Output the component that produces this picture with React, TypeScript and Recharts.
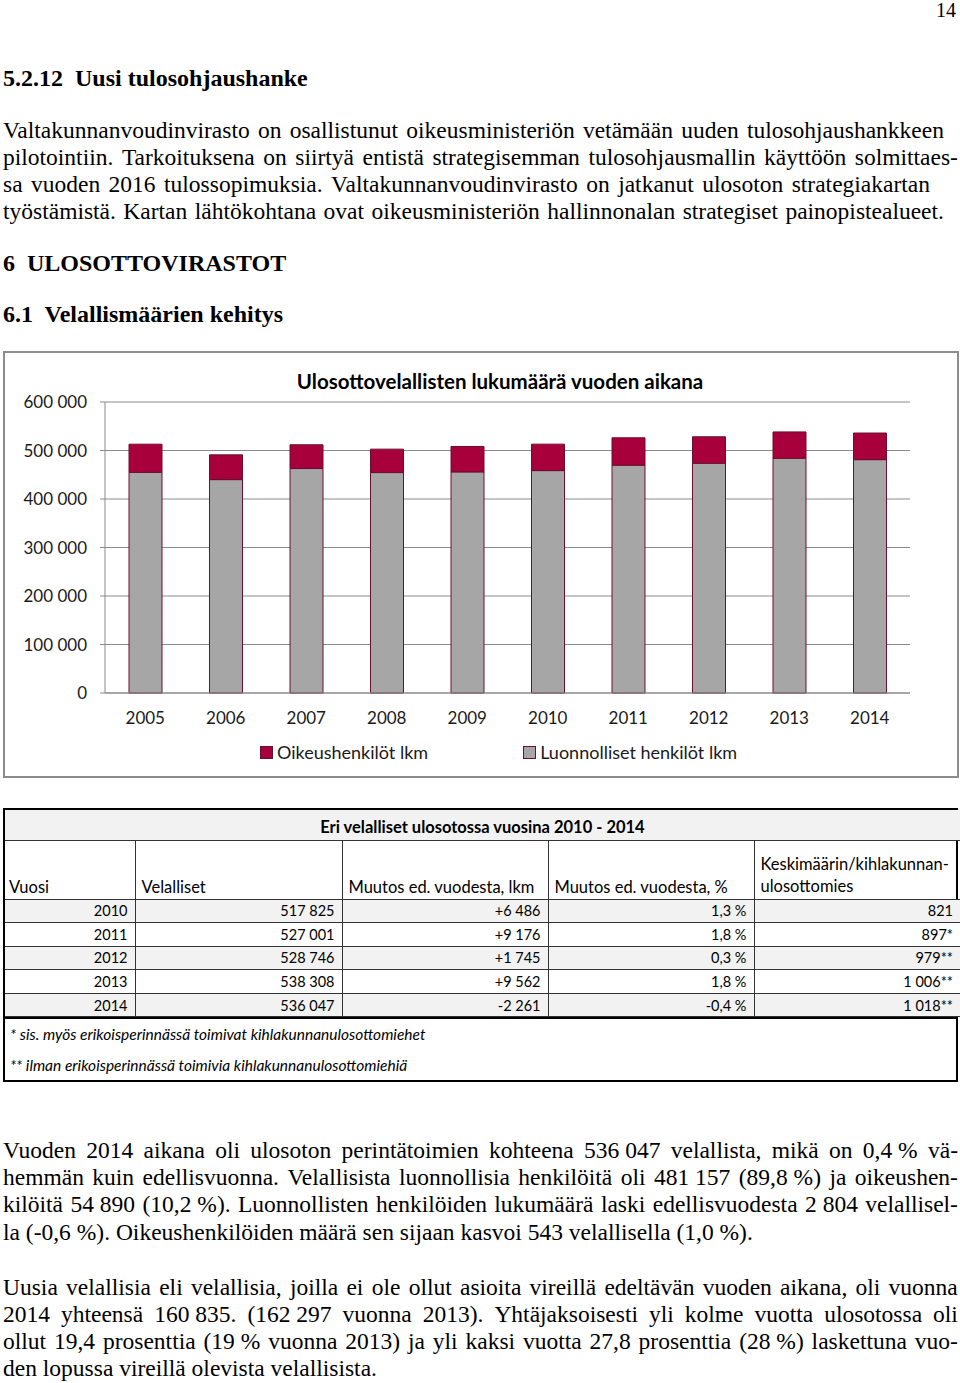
import React from 'react';
import { BarChart, Bar, XAxis, YAxis, CartesianGrid, Legend } from 'recharts';

// chart values (2013–2014 from the text)
const years = ['2005', '2006', '2007', '2008', '2009', '2010', '2011', '2012', '2013', '2014'];
const luonnolliset = [455000, 440000, 462800, 454500, 455900, 458600, 469700, 473800, 483961, 481157];
const oikeushenkilot = [58000, 51000, 49000, 48300, 52400, 54500, 56500, 54500, 54347, 54890];
const yTicks = [0, 100000, 200000, 300000, 400000, 500000, 600000];
const boundaryTicks = [0, 1, 2, 3, 4, 5, 6, 7, 8, 9, 10];

// table values
const tableYears = ['2010', '2011', '2012', '2013', '2014'];
const velalliset = ['517 825', '527 001', '528 746', '538 308', '536 047'];
const muutosLkm = ['+6 486', '+9 176', '+1 745', '+9 562', '-2 261'];
const muutosPct = ['1,3 %', '1,8 %', '0,3 %', '1,8 %', '-0,4 %'];
const keskimaarin = ['821', '897*', '979**', '1 006**', '1 018**'];

const RED = '#A8003B';
const GRAY = '#A6A6A6';
const EDGE = '#6B0F2E';
const serif = '"Liberation Serif", "Times New Roman", serif';
const sans = 'Lato, "Open Sans", sans-serif';

const chartData = years.map((y, i) => ({
  year: y,
  luonnolliset: luonnolliset[i],
  oikeus: oikeushenkilot[i],
}));

const fmt = (v: number) => String(v).replace(/\B(?=(\d{3})+(?!\d))/g, ' ');

type LineProps = { text: string; y: number; width?: number; bold?: boolean; size?: number };

// justified line: words spread over a fixed width
function TextLine({ text, y, width, bold, size = 23.5 }: LineProps) {
  const common: React.CSSProperties = {
    position: 'absolute',
    left: 3,
    top: y - 14,
    height: 28,
    lineHeight: '28px',
    fontFamily: serif,
    fontSize: size,
    fontWeight: bold ? 700 : 400,
    color: '#000',
    whiteSpace: 'pre',
  };
  if (!width) return <div style={common}>{text}</div>;
  return (
    <div style={{ ...common, width, display: 'flex', justifyContent: 'space-between' }}>
      {text.split(' ').map((w, i) => (
        <span key={i}>{w}</span>
      ))}
    </div>
  );
}

const topLines: LineProps[] = [
  { text: 'Valtakunnanvoudinvirasto on osallistunut oikeusministeriön vetämään uuden tulosohjaushankkeen', y: 130, width: 941 },
  { text: 'pilotointiin. Tarkoituksena on siirtyä entistä strategisemman tulosohjausmallin käyttöön solmittaes-', y: 157, width: 955 },
  { text: 'sa vuoden 2016 tulossopimuksia. Valtakunnanvoudinvirasto on jatkanut ulosoton strategiakartan', y: 184, width: 927 },
  { text: 'työstämistä. Kartan lähtökohtana ovat oikeusministeriön hallinnonalan strategiset painopistealueet.', y: 211, width: 941 },
];

const bottomLines: LineProps[] = [
  { text: 'Vuoden 2014 aikana oli ulosoton perintätoimien kohteena 536\u00a0047 velallista, mikä on 0,4\u00a0% vä-', y: 1150, width: 955 },
  { text: 'hemmän kuin edellisvuonna. Velallisista luonnollisia henkilöitä oli 481\u00a0157 (89,8\u00a0%) ja oikeushen-', y: 1177, width: 955 },
  { text: 'kilöitä 54\u00a0890 (10,2\u00a0%). Luonnollisten henkilöiden lukumäärä laski edellisvuodesta 2\u00a0804 velallisel-', y: 1204, width: 955 },
  { text: 'la (-0,6 %). Oikeushenkilöiden määrä sen sijaan kasvoi 543 velallisella (1,0 %).', y: 1232 },
  { text: 'Uusia velallisia eli velallisia, joilla ei ole ollut asioita vireillä edeltävän vuoden aikana, oli vuonna', y: 1287, width: 955 },
  { text: '2014 yhteensä 160\u00a0835. (162\u00a0297 vuonna 2013). Yhtäjaksoisesti yli kolme vuotta ulosotossa oli', y: 1314, width: 955 },
  { text: 'ollut 19,4 prosenttia (19\u00a0% vuonna 2013) ja yli kaksi vuotta 27,8 prosenttia (28\u00a0%) laskettuna vuo-', y: 1341, width: 955 },
  { text: 'den lopussa vireillä olevista velallisista.', y: 1368 },
];

function LegendContent() {
  const items = [
    { label: 'Oikeushenkilöt lkm', color: RED },
    { label: 'Luonnolliset henkilöt lkm', color: GRAY },
  ];
  return (
    <div style={{ display: 'flex', paddingLeft: 255, paddingTop: 18, gap: 95, fontFamily: sans, fontSize: 18, color: '#1a1a1a', height: 22, alignItems: 'flex-start' }}>
      {items.map((it) => (
        <div key={it.label} style={{ display: 'flex', alignItems: 'center', lineHeight: '22px' }}>
          <span style={{ width: 11, height: 11, background: it.color, border: `1px solid ${EDGE}`, marginRight: 4 }} />
          {it.label}
        </div>
      ))}
    </div>
  );
}

function Chart() {
  return (
    <div style={{ position: 'absolute', left: 3, top: 351, width: 952, height: 423, border: '2px solid #8C8C8C', background: '#fff' }}>
      <div style={{ position: 'absolute', left: 0, width: 990, top: 16, textAlign: 'center', fontFamily: sans, fontWeight: 700, fontSize: 20.5, color: '#000' }}>
        Ulosottovelallisten lukumäärä vuoden aikana
      </div>
      <BarChart width={952} height={423} data={chartData} margin={{ top: 49, right: 47, left: 0, bottom: 13 }} barSize={33}>
        <CartesianGrid vertical={false} stroke="#8A8A8A" strokeWidth={1} />
        <XAxis
          xAxisId="bounds"
          type="number"
          domain={[0, 10]}
          ticks={boundaryTicks}
          tick={false}
          height={0}
          axisLine={false}
          tickLine={{ stroke: '#8A8A8A' }}
          tickSize={8}
        />
        <XAxis
          dataKey="year"
          height={30}
          axisLine={{ stroke: '#8A8A8A' }}
          tickLine={false}
          tickMargin={13}
          tick={{ fontFamily: sans, fontSize: 17, fill: '#1a1a1a' }}
        />
        <YAxis
          width={100}
          domain={[0, 600000]}
          ticks={yTicks}
          tickFormatter={fmt}
          axisLine={{ stroke: '#8A8A8A' }}
          tickLine={{ stroke: '#8A8A8A' }}
          tickSize={5}
          tickMargin={13}
          tick={{ fontFamily: sans, fontSize: 17, fill: '#1a1a1a' }}
        />
        <Legend verticalAlign="bottom" height={40} content={<LegendContent />} />
        <Bar dataKey="luonnolliset" name="Luonnolliset henkilöt lkm" stackId="a" fill={GRAY} stroke={EDGE} strokeWidth={1} isAnimationActive={false} />
        <Bar dataKey="oikeus" name="Oikeushenkilöt lkm" stackId="a" fill={RED} stroke={EDGE} strokeWidth={1} isAnimationActive={false} />
      </BarChart>
    </div>
  );
}

const cell: React.CSSProperties = {
  border: '1px solid #333',
  padding: '0 7px',
  fontFamily: sans,
  fontSize: 14.5,
  color: '#000',
};

const head: React.CSSProperties = { ...cell, fontSize: 16.5, verticalAlign: 'bottom', paddingBottom: 2, paddingLeft: 6 };

function Table() {
  const colW = [130, 207, 206, 206, 206];
  return (
    <div style={{ position: 'absolute', left: 3, top: 808, width: 951, height: 270, border: '2px solid #000', background: '#fff' }}>
      <table style={{ borderCollapse: 'collapse', width: 951, tableLayout: 'fixed' }}>
        <colgroup>
          {colW.map((w, i) => (
            <col key={i} style={{ width: w }} />
          ))}
        </colgroup>
        <tbody>
          <tr style={{ height: 30, background: '#F2F2F2' }}>
            <td colSpan={5} style={{ ...cell, fontSize: 16.5, borderTop: 'none', borderLeft: 'none', borderRight: 'none', textAlign: 'center', fontWeight: 700, verticalAlign: 'bottom', paddingBottom: 3 }}>
              Eri velalliset ulosotossa vuosina 2010 - 2014
            </td>
          </tr>
          <tr style={{ height: 59 }}>
            {['Vuosi', 'Velalliset', 'Muutos ed. vuodesta, lkm', 'Muutos ed. vuodesta, %'].map((h, i) => (
              <td key={h} style={{ ...head, borderLeft: i === 0 ? 'none' : cell.border, paddingLeft: i === 0 ? 4 : 6 }}>
                {h}
              </td>
            ))}
            <td style={{ ...head, borderRight: 'none', lineHeight: '22px' }}>
              Keskimäärin/kihlakunnan-
              <br />
              ulosottomies
            </td>
          </tr>
          {tableYears.map((y, i) => (
            <tr key={y} style={{ height: 23.6, background: i % 2 === 0 ? '#F2F2F2' : '#fff' }}>
              <td style={{ ...cell, textAlign: 'right', borderLeft: 'none' }}>{y}</td>
              <td style={{ ...cell, textAlign: 'right' }}>{velalliset[i]}</td>
              <td style={{ ...cell, textAlign: 'right' }}>{muutosLkm[i]}</td>
              <td style={{ ...cell, textAlign: 'right' }}>{muutosPct[i]}</td>
              <td style={{ ...cell, textAlign: 'right', borderRight: 'none' }}>{keskimaarin[i]}</td>
            </tr>
          ))}
        </tbody>
      </table>
      <div style={{ borderTop: '2px solid #000', fontFamily: sans, fontStyle: 'italic', fontSize: 15.5, paddingLeft: 5 }}>
        <div style={{ marginTop: 5, lineHeight: '20px' }}>* sis. myös erikoisperinnässä toimivat kihlakunnanulosottomiehet</div>
        <div style={{ marginTop: 11, lineHeight: '20px' }}>** ilman erikoisperinnässä toimivia kihlakunnanulosottomiehiä</div>
      </div>
    </div>
  );
}

export default function App() {
  return (
    <div style={{ position: 'absolute', left: 0, top: 0, width: 960, height: 1383, background: '#fff', overflow: 'hidden' }}>
      <div style={{ position: 'absolute', right: 4, top: 0, lineHeight: '20px', fontFamily: serif, fontSize: 20 }}>14</div>
      <TextLine text={'5.2.12\u00a0 Uusi tulosohjaushanke'} y={78} bold size={24} />
      {topLines.map((l, i) => (
        <TextLine key={i} {...l} />
      ))}
      <TextLine text={'6\u00a0 ULOSOTTOVIRASTOT'} y={263} bold size={24} />
      <TextLine text={'6.1\u00a0 Velallismäärien kehitys'} y={314} bold size={24} />
      <Chart />
      <Table />
      {bottomLines.map((l, i) => (
        <TextLine key={i} {...l} />
      ))}
    </div>
  );
}
